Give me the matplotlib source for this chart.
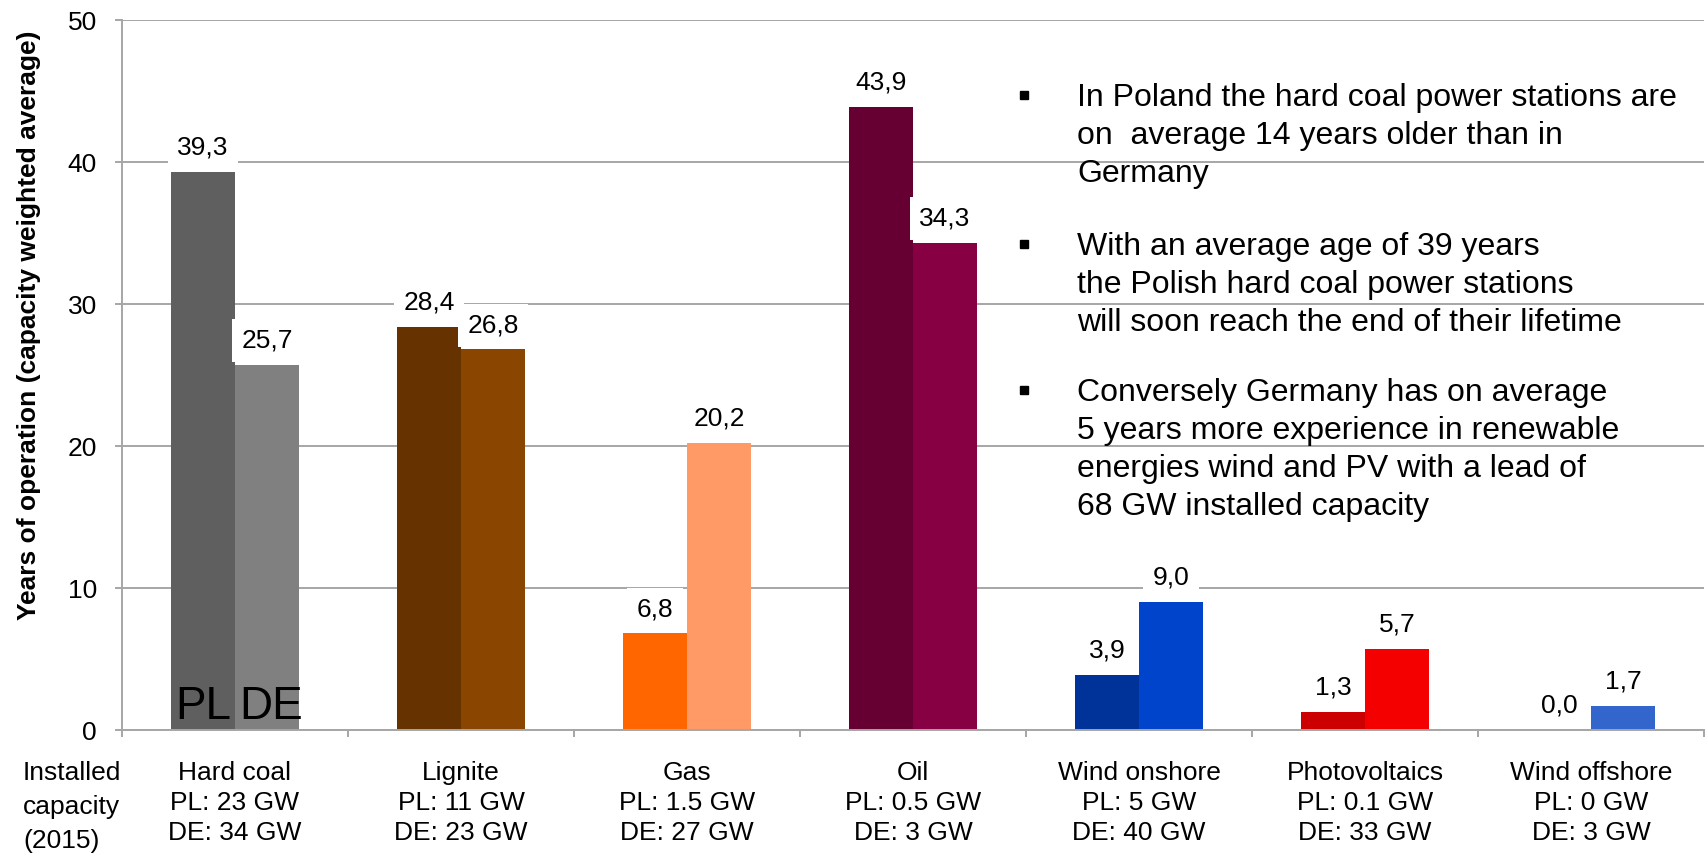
import numpy as np
import matplotlib.pyplot as plt
from matplotlib.lines import Line2D

plt.rcParams['font.family'] = ['Liberation Sans', 'DejaVu Sans']

# data
categories = ['Hard coal', 'Lignite', 'Gas', 'Oil', 'Wind onshore', 'Photovoltaics', 'Wind offshore']
pl_age = [39.3, 28.4, 6.8, 43.9, 3.9, 1.3, 0.0]
de_age = [25.7, 26.8, 20.2, 34.3, 9.0, 5.7, 1.7]
pl_cap = ['23', '11', '1.5', '0.5', '5', '0.1', '0']
de_cap = ['34', '23', '27', '3', '40', '33', '3']
pl_colors = ['#5f5f5f', '#663300', '#ff6600', '#660033', '#003399', '#cc0000', '#3366cc']
de_colors = ['#808080', '#8a4500', '#ff9966', '#880044', '#0044cc', '#f50000', '#3366cc']
yticks = [0, 10, 20, 30, 40, 50]

bullets = [
    "In Poland the hard coal power stations are\non  average 14 years older than in\nGermany",
    "With an average age of 39 years\nthe Polish hard coal power stations\nwill soon reach the end of their lifetime",
    "Conversely Germany has on average\n5 years more experience in renewable\nenergies wind and PV with a lead of\n68 GW installed capacity",
]

W, H = 1706, 855
fig = plt.figure(figsize=(W/100, H/100), dpi=100)
ax = fig.add_axes([122/W, 1-730/H, (1704-122)/W, 710/H])

grey = '#a6a6a6'
x = np.arange(len(categories))
bw = 0.283

ax.bar(x - bw/2, pl_age, bw, color=pl_colors, zorder=2)
ax.bar(x + bw/2, de_age, bw, color=de_colors, zorder=2)

def fmt(v):
    return ("%.1f" % v).replace('.', ',')

for xi, v in zip(x - bw/2, pl_age):
    ax.annotate(fmt(v), (xi, v), xytext=(0, 12.5), textcoords='offset points',
                ha='center', va='baseline', fontsize=19, zorder=4,
                bbox=dict(boxstyle='square,pad=0.36', fc='white', ec='none'))
for xi, v in zip(x + bw/2, de_age):
    ax.annotate(fmt(v), (xi, v), xytext=(0, 12.5), textcoords='offset points',
                ha='center', va='baseline', fontsize=19, zorder=4,
                bbox=dict(boxstyle='square,pad=0.36', fc='white', ec='none'))

# PL / DE marks inside the first pair of bars
ax.annotate('PL', (x[0] - bw/2, 0), xytext=(0, 8), textcoords='offset points',
            ha='center', va='baseline', fontsize=33, zorder=3)
ax.annotate('DE', (x[0] + bw/2, 0), xytext=(3, 8), textcoords='offset points',
            ha='center', va='baseline', fontsize=33, zorder=3)

ax.set_xlim(-0.5, len(categories) - 0.5)
ax.set_ylim(0, 50)
ax.set_yticks(yticks)
ax.tick_params(axis='y', direction='out', length=5, width=1.4, color=grey,
               labelsize=19, pad=13)
ax.yaxis.grid(True, color=grey, lw=1.4, zorder=0)
ax.set_axisbelow(True)

labels = ["%s\nPL: %s GW\nDE: %s GW" % (c, p, d) for c, p, d in zip(categories, pl_cap, de_cap)]
ax.set_xticks(x)
ax.set_xticklabels(labels, fontsize=19, linespacing=1.33)
ax.set_xticks(np.arange(-0.5, len(categories)), minor=True)
ax.tick_params(axis='x', which='major', length=0, pad=22)
ax.tick_params(axis='x', which='minor', direction='out', length=5, width=1.4, color=grey)

for s in ['top', 'right']:
    ax.spines[s].set_visible(False)
for s in ['left', 'bottom']:
    ax.spines[s].set_color(grey)
    ax.spines[s].set_linewidth(1.4)

fig.text(29/W, 1-325/H, 'Years of operation (capacity weighted average)', rotation=90,
         ha='center', va='center', fontsize=19, fontweight='bold')
fig.text(23/W, 1-761/H, 'Installed\ncapacity\n(2015)', ha='left', va='top',
         fontsize=19, linespacing=1.52)

tops = [83, 232, 378]
for txt, t in zip(bullets, tops):
    fig.text(1077/W, 1-t/H, txt, ha='left', va='top', fontsize=23, linespacing=1.35)
    fig.add_artist(Line2D([1024/W], [1-(t+12)/H], marker='s', markersize=6,
                          color='black', transform=fig.transFigure))

fig.savefig('out.png', dpi=100)
